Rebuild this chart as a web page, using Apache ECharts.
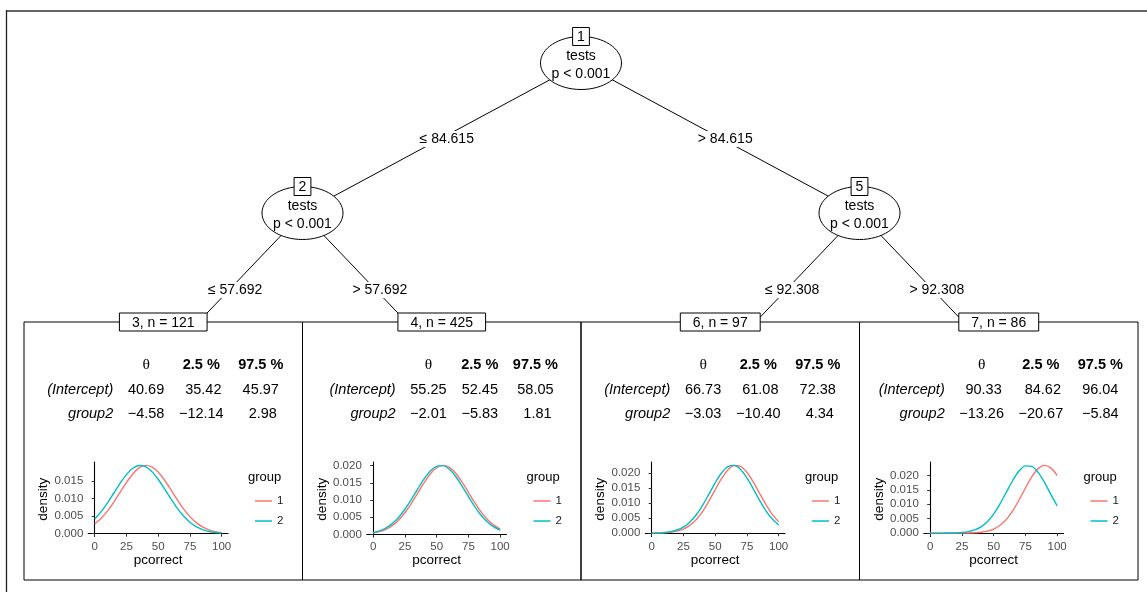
<!DOCTYPE html>
<html>
<head>
<meta charset="utf-8">
<script src="https://cdn.jsdelivr.net/npm/echarts@6/dist/echarts.min.js"></script>
<style>
  html, body { margin: 0; padding: 0; background: #fff; }
  #chart { width: 1147px; height: 592px; }
</style>
</head>
<body>
<div id="chart"></div>
<script>
// ---------- tree structure ----------
const innerIds = [1, 2, 5];
const innerVar = ['tests', 'tests', 'tests'];
const innerP = ['p < 0.001', 'p < 0.001', 'p < 0.001'];
const edgeFrom = [1, 1, 2, 2, 5, 5];
const edgeTo = [2, 5, 3, 4, 6, 7];
const edgeLabel = ['≤ 84.615', '> 84.615', '≤ 57.692', '> 57.692', '≤ 92.308', '> 92.308'];
const terminalIds = [3, 4, 6, 7];
const terminalN = [121, 425, 97, 86];

// ---------- coefficient tables (one row per terminal node) ----------
const coefNames = ['(Intercept)', 'group2'];
const colHeads = ['θ', '2.5 %', '97.5 %'];
const thetaEst = [[40.69, -4.58], [55.25, -2.01], [66.73, -3.03], [90.33, -13.26]];
const ciLower  = [[35.42, -12.14], [52.45, -5.83], [61.08, -10.40], [84.62, -20.67]];
const ciUpper  = [[45.97, 2.98], [58.05, 1.81], [72.38, 4.34], [96.04, -5.84]];

// ---------- density curves per terminal node ----------
const pcorrect = [0, 5, 10, 15, 20, 25, 30, 35, 40, 45, 50, 55, 60, 65, 70, 75, 80, 85, 90, 95, 100];
const dens3g1 = [0.00275, 0.00432, 0.00638, 0.00890, 0.01170, 0.01449, 0.01693, 0.01865, 0.01936, 0.01895, 0.01749, 0.01522, 0.01248, 0.00965, 0.00704, 0.00484, 0.00314, 0.00192, 0.00110, 0.00060, 0.00031];
const dens3g2 = [0.00417, 0.00619, 0.00868, 0.01146, 0.01427, 0.01675, 0.01854, 0.01934, 0.01903, 0.01765, 0.01543, 0.01272, 0.00989, 0.00724, 0.00501, 0.00326, 0.00200, 0.00116, 0.00063, 0.00033, 0.00016];
const dens4g1 = [0.00042, 0.00083, 0.00151, 0.00259, 0.00418, 0.00631, 0.00896, 0.01195, 0.01495, 0.01756, 0.01936, 0.02005, 0.01949, 0.01778, 0.01523, 0.01225, 0.00925, 0.00656, 0.00437, 0.00273, 0.00160];
const dens4g2 = [0.00056, 0.00106, 0.00189, 0.00316, 0.00497, 0.00733, 0.01014, 0.01317, 0.01607, 0.01840, 0.01979, 0.01997, 0.01892, 0.01684, 0.01406, 0.01103, 0.00812, 0.00561, 0.00364, 0.00222, 0.00127];
const dens6g1 = [0.00002, 0.00005, 0.00013, 0.00031, 0.00068, 0.00138, 0.00259, 0.00449, 0.00718, 0.01059, 0.01442, 0.01812, 0.02102, 0.02249, 0.02222, 0.02025, 0.01704, 0.01323, 0.00948, 0.00627, 0.00382];
const dens6g2 = [0.00003, 0.00009, 0.00022, 0.00050, 0.00105, 0.00204, 0.00365, 0.00603, 0.00917, 0.01289, 0.01672, 0.02001, 0.02211, 0.02254, 0.02121, 0.01841, 0.01476, 0.01091, 0.00745, 0.00469, 0.00273];
const dens7g1 = [0.0000000, 0.0000000, 0.0000000, 0.0000013, 0.0000045, 0.000015, 0.000043, 0.00012, 0.00029, 0.00067, 0.00141, 0.00271, 0.00478, 0.00774, 0.01149, 0.01565, 0.01954, 0.02237, 0.02350, 0.02263, 0.02000];
const dens7g2 = [0.0000008, 0.0000029, 0.0000098, 0.00003, 0.00008, 0.00022, 0.00051, 0.00110, 0.00218, 0.00397, 0.00661, 0.01012, 0.01420, 0.01826, 0.02155, 0.02333, 0.02315, 0.02108, 0.01760, 0.01347, 0.00946];
const densByNode = [[dens3g1, dens3g2], [dens4g1, dens4g2], [dens6g1, dens6g2], [dens7g1, dens7g2]];
const groupNames = ['1', '2'];
const groupColors = ['#F8766D', '#00BFC4'];
const xTicks = [0, 25, 50, 75, 100];
const yTicksByNode = [
  [0, 0.005, 0.010, 0.015],
  [0, 0.005, 0.010, 0.015, 0.020],
  [0, 0.005, 0.010, 0.015, 0.020],
  [0, 0.005, 0.010, 0.015, 0.020]
];

// ---------- layout ----------
const FONT = '"Liberation Sans", Arial, Helvetica, sans-serif';
const PANEL_L = 24, PANEL_R = 1138, PANEL_T = 322, PANEL_B = 580;
const SLOT = (PANEL_R - PANEL_L) / terminalIds.length;
const DEPTH_Y = [63, 213];          // vertical position of inner-node levels
const TERMINAL_ANCHOR_Y = 359;      // edges aim at this point of a terminal node
const ELL_RX = 40.5, ELL_RY = 26.5;

const measureCtx = document.createElement('canvas').getContext('2d');
function textWidth(str, font) { measureCtx.font = font; return measureCtx.measureText(str).width; }

// tree positions: terminals sit at slot centres, inner nodes at the mean of their children
const children = {};
edgeFrom.forEach((f, i) => { (children[f] = children[f] || []).push(edgeTo[i]); });
const depth = {};
(function setDepth(id, d) { depth[id] = d; (children[id] || []).forEach(c => setDepth(c, d + 1)); })(innerIds[0], 0);
function nodeX(id) {
  const t = terminalIds.indexOf(id);
  if (t >= 0) return t + 0.5;
  const cs = children[id];
  return cs.reduce((s, c) => s + nodeX(c), 0) / cs.length;
}
function isTerminal(id) { return terminalIds.indexOf(id) >= 0; }

// edge segments, in tree-grid units (x: slots, y: pixels)
const edgeData = edgeFrom.map((f, i) => {
  const c = edgeTo[i];
  const x1 = nodeX(f), y1 = DEPTH_Y[depth[f]];
  let x2 = nodeX(c), y2 = isTerminal(c) ? TERMINAL_ANCHOR_Y : DEPTH_Y[depth[c]];
  let lt = 0.5;
  if (isTerminal(c)) {
    lt = 0.52;
    const k = (PANEL_T - y1) / (y2 - y1);
    const lx = x1 + (x2 - x1) * lt, ly = y1 + (y2 - y1) * lt;
    x2 = x1 + (x2 - x1) * k; y2 = PANEL_T;
    return [x1, y1, x2, y2, lx, ly, i];
  }
  return [x1, y1, x2, y2, x1 + (x2 - x1) * lt, y1 + (y2 - y1) * lt, i];
});
const innerData = innerIds.map((id, k) => [nodeX(id), DEPTH_Y[depth[id]], k]);
const terminalData = terminalIds.map((id, k) => [nodeX(id), PANEL_T, k]);

function txt(text, x, y, font, align, valign, fill) {
  return { type: 'text', style: { text: text, x: x, y: y, font: font, fill: fill || '#000',
    align: align, textAlign: align, verticalAlign: valign, textVerticalAlign: valign } };
}

const TREE_FONT = '14px ' + FONT;

// ---------- coefficient tables as text ----------
function fmtCol(vals) {
  const s = vals.map(v => v.toFixed(2));
  const len = Math.max.apply(null, s.map(t => t.length));
  return s.map(t => (' '.repeat(len - t.length) + t).replace('-', '\u2212'));
}
const TAB_FS = 14.5;
const fReg = TAB_FS + 'px ' + FONT;
const fBold = 'bold ' + TAB_FS + 'px ' + FONT;
const fItal = 'italic ' + TAB_FS + 'px ' + FONT;
const fTheta = '15.5px "Liberation Serif", "DejaVu Serif", serif';
const TAB_GAP = 14.5;
const graphics = [];
terminalIds.forEach((id, i) => {
  const cols = [fmtCol(thetaEst[i]), fmtCol(ciLower[i]), fmtCol(ciUpper[i])];
  const headFonts = [fTheta, fBold, fBold];
  const w0 = Math.max.apply(null, coefNames.map(n => textWidth(n, fItal)));
  const cw = cols.map((c, j) => Math.max(textWidth(colHeads[j], headFonts[j]),
    Math.max.apply(null, c.map(s => textWidth(s, fReg)))));
  const total = w0 + cw.reduce((a, b) => a + b, 0) + TAB_GAP * cw.length;
  const cx = PANEL_L + SLOT * (i + 0.5) + 2;
  const x0 = cx - total / 2;
  const rowY = [PANEL_T + 43, PANEL_T + 67.5, PANEL_T + 91.5];
  coefNames.forEach((n, r) => graphics.push(txt(n, x0 + w0, rowY[r + 1], fItal, 'right', 'middle')));
  let xc = x0 + w0 + TAB_GAP;
  cols.forEach((c, j) => {
    const mid = xc + cw[j] / 2;
    graphics.push(txt(colHeads[j], mid, rowY[0], headFonts[j], 'center', 'middle'));
    c.forEach((s, r) => graphics.push(txt(s, mid, rowY[r + 1], fReg, 'center', 'middle')));
    xc += cw[j] + TAB_GAP;
  });
  // legend title
  graphics.push(txt('group', PANEL_L + SLOT * i + 224, 477, '13px ' + FONT, 'left', 'middle'));
});
// outer frame
graphics.push({ type: 'line', shape: { x1: 6, y1: 11, x2: 1147, y2: 11 }, style: { stroke: '#666', lineWidth: 2 } });
graphics.push({ type: 'line', shape: { x1: 6.5, y1: 10, x2: 6.5, y2: 592 }, style: { stroke: '#222', lineWidth: 1.3 } });

// ---------- density panels ----------
const grids = [{ left: PANEL_L, right: 1147 - PANEL_R, top: 0, bottom: 0 }];
const xAxes = [{ type: 'value', gridIndex: 0, min: 0, max: terminalIds.length, show: false }];
const yAxes = [{ type: 'value', gridIndex: 0, min: 0, max: 592, inverse: true, show: false }];
const legends = [];
const series = [];

series.push({
  type: 'custom', xAxisIndex: 0, yAxisIndex: 0, z: 1, silent: true,
  data: edgeData,
  renderItem: (params, api) => {
    const a = api.coord([api.value(0), api.value(1)]);
    const b = api.coord([api.value(2), api.value(3)]);
    return { type: 'line', shape: { x1: a[0], y1: a[1], x2: b[0], y2: b[1] },
      style: { stroke: '#000', lineWidth: 1 } };
  }
});
series.push({
  type: 'custom', xAxisIndex: 0, yAxisIndex: 0, z: 2, silent: true,
  data: terminalData,
  renderItem: (params, api) => {
    const k = api.value(2);
    const lt = api.coord([api.value(0) - 0.5, PANEL_T]);
    const rb = api.coord([api.value(0) + 0.5, PANEL_B]);
    const c = api.coord([api.value(0), api.value(1)]);
    const label = terminalIds[k] + ', n = ' + terminalN[k];
    const bw = textWidth(label, TREE_FONT) + 25;
    return { type: 'group', children: [
      { type: 'rect', shape: { x: lt[0], y: lt[1], width: rb[0] - lt[0], height: rb[1] - lt[1] },
        style: { fill: 'none', stroke: '#000', lineWidth: 1 } },
      { type: 'rect', shape: { x: c[0] - bw / 2, y: c[1] - 9, width: bw, height: 18 },
        style: { fill: '#fff', stroke: '#000', lineWidth: 1 } },
      txt(label, c[0], c[1] + 1, TREE_FONT, 'center', 'middle')
    ] };
  }
});
series.push({
  type: 'custom', xAxisIndex: 0, yAxisIndex: 0, z: 3, silent: true,
  data: innerData,
  renderItem: (params, api) => {
    const k = api.value(2);
    const c = api.coord([api.value(0), api.value(1)]);
    const idText = String(innerIds[k]);
    const bw = textWidth(idText, TREE_FONT) + 9;
    return { type: 'group', children: [
      { type: 'ellipse', shape: { cx: c[0], cy: c[1], rx: ELL_RX, ry: ELL_RY },
        style: { fill: '#fff', stroke: '#000', lineWidth: 1 } },
      { type: 'rect', shape: { x: c[0] - bw / 2, y: c[1] - ELL_RY - 9, width: bw, height: 18 },
        style: { fill: '#fff', stroke: '#000', lineWidth: 1 } },
      txt(idText, c[0], c[1] - ELL_RY + 1, TREE_FONT, 'center', 'middle'),
      txt(innerVar[k], c[0], c[1] - 6.5, TREE_FONT, 'center', 'middle'),
      txt(innerP[k], c[0], c[1] + 11.5, TREE_FONT, 'center', 'middle')
    ] };
  }
});
series.push({
  type: 'custom', xAxisIndex: 0, yAxisIndex: 0, z: 4, silent: true,
  data: edgeData,
  renderItem: (params, api) => {
    const p = api.coord([api.value(4), api.value(5)]);
    const e = api.value(6);
    return { type: 'text', style: { text: edgeLabel[e], x: p[0] + 5, y: p[1] + 1, font: TREE_FONT, fill: '#000',
      align: 'center', textAlign: 'center', verticalAlign: 'middle', textVerticalAlign: 'middle',
      backgroundColor: '#fff', padding: [1, 1] } };
  }
});

terminalIds.forEach((id, i) => {
  const gi = i + 1;
  const panelLeft = PANEL_L + SLOT * i;
  grids.push({ left: panelLeft + 64.3, width: 139.7, top: 462, height: 74.5 });
  const all = densByNode[i][0].concat(densByNode[i][1]);
  const lo = Math.min.apply(null, all), hi = Math.max.apply(null, all);
  const xlo = Math.min.apply(null, pcorrect), xhi = Math.max.apply(null, pcorrect);
  xAxes.push({
    type: 'value', gridIndex: gi,
    min: xlo - 0.05 * (xhi - xlo), max: xhi + 0.05 * (xhi - xlo),
    splitLine: { show: false },
    axisLine: { lineStyle: { color: '#000', width: 1.1 } },
    axisTick: { length: 3, customValues: xTicks, lineStyle: { color: '#333', width: 1 } },
    axisLabel: { customValues: xTicks, color: '#4d4d4d', fontSize: 11.5, fontFamily: FONT, margin: 4 },
    name: 'pcorrect', nameLocation: 'middle', nameGap: 17,
    nameTextStyle: { color: '#000', fontSize: 13.5, fontFamily: FONT }
  });
  yAxes.push({
    type: 'value', gridIndex: gi,
    min: lo - 0.05 * (hi - lo), max: hi + 0.05 * (hi - lo),
    splitLine: { show: false },
    axisLine: { show: true, lineStyle: { color: '#000', width: 1.1 } },
    axisTick: { show: true, length: 3, customValues: yTicksByNode[i], lineStyle: { color: '#333', width: 1 } },
    axisLabel: { customValues: yTicksByNode[i], color: '#4d4d4d', fontSize: 11.5, fontFamily: FONT, margin: 5,
      formatter: v => v.toFixed(3) },
    name: 'density', nameLocation: 'middle', nameGap: 37,
    nameTextStyle: { color: '#000', fontSize: 13.5, fontFamily: FONT }
  });
  groupNames.forEach((g, j) => {
    series.push({
      type: 'line', name: g, xAxisIndex: gi, yAxisIndex: gi, z: 5,
      data: pcorrect.map((x, k) => [x, densByNode[i][j][k]]),
      smooth: 0.3, showSymbol: false, silent: true,
      color: groupColors[j],
      lineStyle: { color: groupColors[j], width: 1.4 }
    });
  });
  legends.push({
    data: groupNames, orient: 'vertical', left: panelLeft + 226, top: 489,
    icon: 'rect', itemWidth: 17, itemHeight: 1.5, itemGap: 6, selectedMode: false,
    textStyle: { fontSize: 11.5, fontFamily: FONT, color: '#1a1a1a', lineHeight: 14 }
  });
});

const chart = echarts.init(document.getElementById('chart'), null, { renderer: 'canvas' });
chart.setOption({
  animation: false,
  backgroundColor: '#fff',
  grid: grids,
  xAxis: xAxes,
  yAxis: yAxes,
  legend: legends,
  series: series,
  graphic: { elements: graphics }
});
</script>
</body>
</html>
